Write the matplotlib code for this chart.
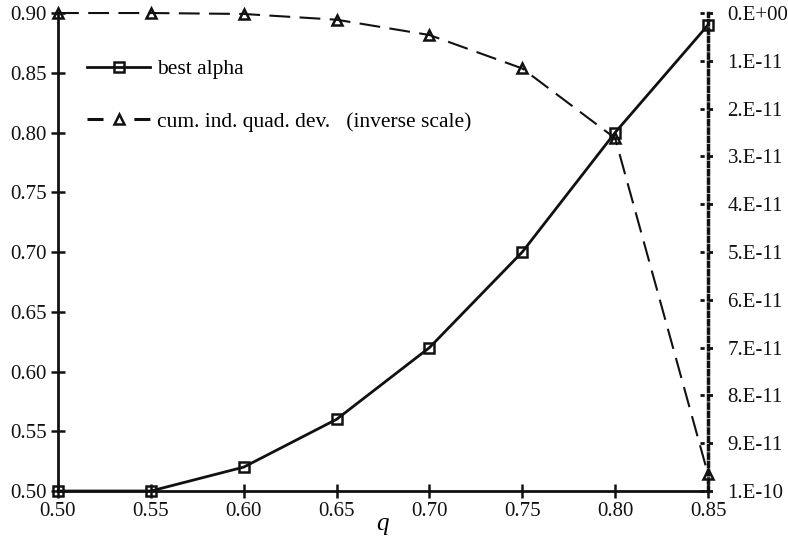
import matplotlib
matplotlib.use('Agg')
import matplotlib.pyplot as plt
import matplotlib.transforms as mtransforms
from matplotlib.lines import Line2D

plt.rcParams['font.family'] = ['Liberation Serif', 'DejaVu Serif']
plt.rcParams['mathtext.fontset'] = 'custom'
plt.rcParams['mathtext.it'] = 'Liberation Serif:italic'

q = [0.50, 0.55, 0.60, 0.65, 0.70, 0.75, 0.80, 0.85]
best_alpha = [0.50, 0.50, 0.52, 0.56, 0.62, 0.70, 0.80, 0.89]
cum_dev = [0.0, 0.0, 0.2e-12, 1.4e-12, 4.6e-12, 11.6e-12, 26.2e-12, 96.5e-12]

left_ticks = [0.50, 0.55, 0.60, 0.65, 0.70, 0.75, 0.80, 0.85, 0.90]
right_ticks = [0, 1e-11, 2e-11, 3e-11, 4e-11, 5e-11, 6e-11, 7e-11, 8e-11, 9e-11, 1e-10]
right_labels = ['0.E+00', '1.E-11', '2.E-11', '3.E-11', '4.E-11', '5.E-11',
                '6.E-11', '7.E-11', '8.E-11', '9.E-11', '1.E-10']

fig = plt.figure(figsize=(7.88, 5.54), dpi=100)
ax = fig.add_axes([0.0736, 0.1137, 0.8249, 0.8628])
ax2 = ax.twinx()

l1, = ax.plot(q, best_alpha, color='#111111', lw=2, marker='s', ms=7,
              mfc='none', mew=1.8, clip_on=False, zorder=5, label='best alpha')
l2, = ax2.plot(q, cum_dev, color='#111111', lw=1.5, ls=(0, (10, 4.5)), marker='^',
               ms=6.5, mfc='none', mew=1.8, clip_on=False, zorder=5,
               label='cum. ind. quad. dev.   (inverse scale)')

ax.set_xlim(0.50, 0.85)
ax.set_ylim(0.50, 0.90)
ax.set_xticks(q)
ax.set_xticklabels(['%.2f' % v for v in q])
ax.set_yticks(left_ticks)
ax.set_yticklabels(['%.2f' % v for v in left_ticks])
ax.tick_params(direction='inout', length=10, width=1.8, labelsize=15, colors='#111111')
ax.tick_params(axis='x', pad=3)
ax.tick_params(axis='y', pad=3)
ax.set_xlabel('$q$', fontsize=18, labelpad=0)
ax.xaxis.set_label_coords(0.5, -0.05)

for s in ['top', 'right']:
    ax.spines[s].set_visible(False)
ax2.spines['top'].set_visible(False)
ax2.spines['left'].set_visible(False)
ax2.spines['bottom'].set_visible(False)
for s in ['left', 'bottom']:
    ax.spines[s].set_linewidth(2)
    ax.spines[s].set_color('#111111')

ax2.set_ylim(1e-10, 0)
ax2.set_yticks(right_ticks)
ax2.set_yticklabels(right_labels)
ax2.spines['right'].set_linestyle((0, (1.2, 1.2)))
ax2.spines['right'].set_linewidth(2.5)
ax2.spines['right'].set_color('#111111')
ax2.tick_params(axis='y', length=0, pad=14, labelsize=15, colors='#111111')

# dotted tick marks on the right axis
trans = mtransforms.blended_transform_factory(ax2.transAxes, ax2.transData)
for v in right_ticks:
    ax2.plot([0.988, 1.012], [v, v], transform=trans, color='#111111', lw=2,
             ls=(0, (1.5, 1.5)), clip_on=False)

# legend handle for the dashed series: two bold dashes around the marker
h2 = Line2D([], [], color='#111111', lw=2.2, ls=(0, (5.24, 10.1)), marker='^',
            ms=6.5, mfc='none', mew=1.8)

ax.legend([l1, h2], [l1.get_label(), l2.get_label()], loc='upper left',
          bbox_to_anchor=(0.0148, 0.9435), frameon=False, fontsize=15.5,
          handlelength=2.93, labelspacing=1.5, handletextpad=0.33)

fig.savefig('out.png', dpi=100)
